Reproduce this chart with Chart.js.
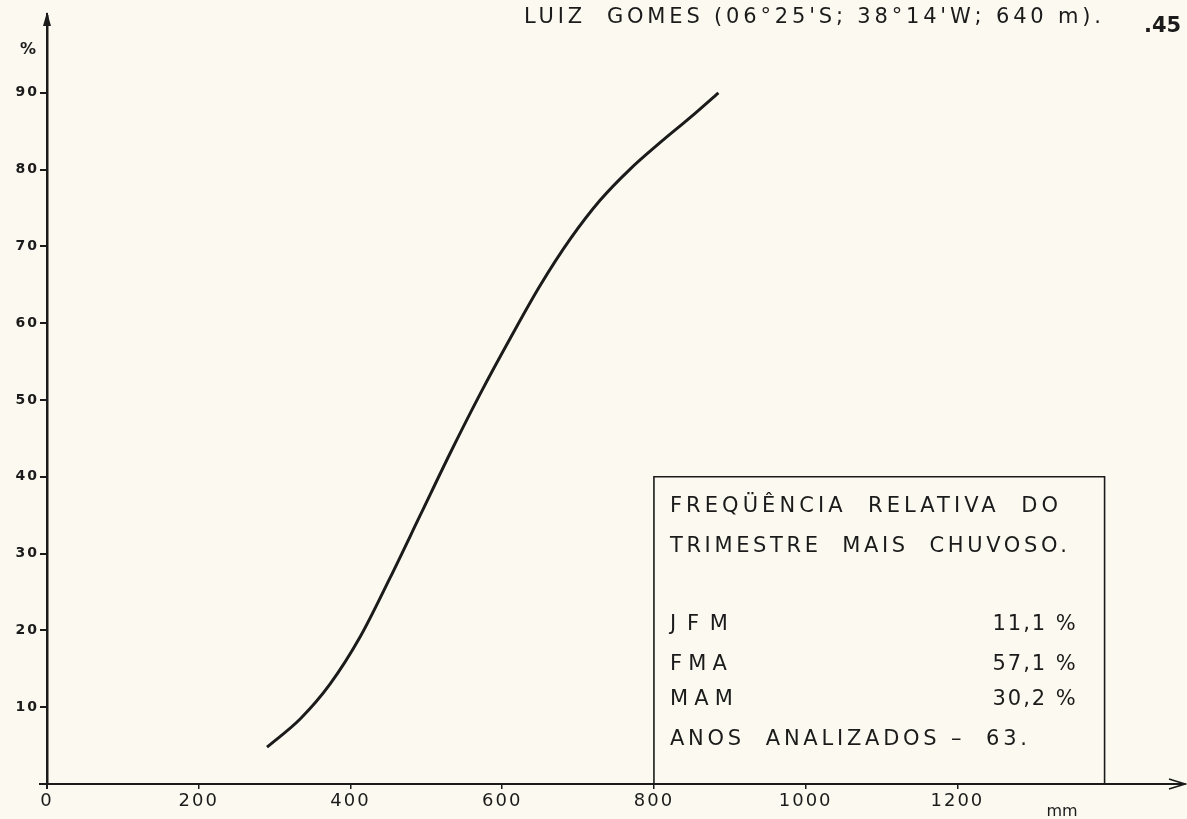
<!DOCTYPE html>
<html>
<head>
<meta charset="utf-8">
<script src="https://cdn.jsdelivr.net/npm/chart.js@4.4.0/dist/chart.umd.min.js"></script>
<style>
  html, body { margin: 0; padding: 0; background: #fcfaf0; }
  #wrap { width: 1187px; height: 819px; position: relative; }
</style>
</head>
<body>
<div id="wrap"><canvas id="curve-chart"></canvas></div>
<script>
// precipitation of the rainiest quarter (mm) vs relative cumulative frequency (%)
const rainfall = [290, 334, 373, 413, 452, 492, 532, 571, 611, 650, 690, 729, 769, 808, 848, 885];
const frequency = [4.8, 8.5, 13.0, 19.2, 26.8, 35.0, 43.2, 50.8, 58.1, 64.9, 71.0, 76.0, 80.1, 83.5, 86.8, 90.0];
const xTicks = [0, 200, 400, 600, 800, 1000, 1200];
const yTicks = [10, 20, 30, 40, 50, 60, 70, 80, 90];
const seasons = ['JFM', 'FMA', 'MAM'];
const seasonShare = [11.1, 57.1, 30.2];
const yearsAnalysed = 63;

const ink = '#1b1b1b';
const sans = '"DejaVu Sans", sans-serif';

// draw text stretched to a given width with letter spacing
function spaced(ctx, text, x, y, width, align) {
  ctx.letterSpacing = '0px';
  let w = ctx.measureText(text).width;
  let ls = text.length > 1 ? (width - w) / (text.length - 1) : 0;
  ctx.letterSpacing = ls + 'px';
  ctx.textAlign = 'left';
  ctx.fillText(text, align === 'right' ? x - width : x, y);
  ctx.letterSpacing = '0px';
}

const sheet = {
  id: 'sheet',
  beforeDraw(chart) {
    chart.ctx.letterSpacing = '2px';
  },
  afterDraw(chart) {
    const ctx = chart.ctx;
    const xs = chart.scales.x, ys = chart.scales.y;
    const ox = xs.getPixelForValue(0), oy = ys.getPixelForValue(0);
    const top = chart.chartArea.top, right = chart.chartArea.right;
    ctx.save();
    ctx.letterSpacing = '0px';
    ctx.strokeStyle = ink;
    ctx.fillStyle = ink;

    // axis stubs + arrows
    ctx.lineWidth = 2;
    ctx.beginPath();
    ctx.moveTo(ox - 8, oy); ctx.lineTo(ox, oy);
    ctx.moveTo(ox, oy); ctx.lineTo(ox, oy + 5);
    ctx.moveTo(ox, top); ctx.lineTo(ox, top - 3);
    ctx.stroke();
    ctx.beginPath();
    ctx.moveTo(ox, top - 4); ctx.lineTo(ox - 4, top + 10); ctx.lineTo(ox + 4, top + 10);
    ctx.closePath(); ctx.fill();
    ctx.lineWidth = 1.8;
    ctx.beginPath();
    ctx.moveTo(right - 16, oy - 5); ctx.lineTo(right, oy); ctx.lineTo(right - 16, oy + 5);
    ctx.stroke();

    // unit labels
    ctx.font = 'bold 16px ' + sans;
    ctx.textAlign = 'center';
    ctx.textBaseline = 'alphabetic';
    ctx.fillText('%', 28, 54);
    ctx.font = '16px ' + sans;
    ctx.fillText('mm', 1062, 816);

    // title and page number
    ctx.font = '21px ' + sans;
    spaced(ctx, 'LUIZ  GOMES (06°25\'S; 38°14\'W; 640 m).', 524, 23, 577);
    ctx.font = 'bold 21px ' + sans;
    ctx.textAlign = 'left';
    ctx.fillText('.45', 1144, 32);

    // legend box
    const bl = xs.getPixelForValue(800), br = xs.getPixelForValue(1394);
    const bt = ys.getPixelForValue(40), bb = oy;
    ctx.lineWidth = 1.6;
    ctx.beginPath();
    ctx.moveTo(bl, bb); ctx.lineTo(bl, bt); ctx.lineTo(br, bt); ctx.lineTo(br, bb);
    ctx.stroke();

    ctx.font = '21px ' + sans;
    const tx = bl + 16, vr = br - 29;
    spaced(ctx, 'FREQÜÊNCIA  RELATIVA  DO', tx, bt + 35, 388);
    spaced(ctx, 'TRIMESTRE  MAIS  CHUVOSO.', tx, bt + 75, 397);
    const rows = [bt + 153, bt + 193, bt + 228];
    const nameW = [58, 57, 63];
    seasons.forEach((s, i) => {
      spaced(ctx, s, tx, rows[i], nameW[i]);
      spaced(ctx, seasonShare[i].toFixed(1).replace('.', ',') + ' %', vr, rows[i], 83, 'right');
    });
    spaced(ctx, 'ANOS  ANALIZADOS –  ' + yearsAnalysed + '.', tx, bt + 268, 357);
    ctx.restore();
  }
};

let chart = new Chart(document.getElementById('curve-chart'), {
  type: 'scatter',
  data: {
    datasets: [{
      data: rainfall.map((v, i) => ({ x: v, y: frequency[i] })),
      showLine: true,
      borderColor: ink,
      borderWidth: 3,
      pointRadius: 0,
      cubicInterpolationMode: 'monotone'
    }]
  },
  plugins: [sheet],
  options: {
    responsive: true,
    maintainAspectRatio: false,
    animation: false,
    layout: { padding: { top: 16, right: 2, left: 0, bottom: 0 } },
    plugins: { legend: { display: false }, tooltip: { enabled: false } },
    scales: {
      x: {
        type: 'linear',
        min: 0,
        max: 1500,
        afterBuildTicks: s => { s.ticks = xTicks.map(v => ({ value: v })); },
        afterFit: s => { s.height = 35; },
        grid: { drawOnChartArea: false, drawTicks: true, tickLength: 5, color: ink, lineWidth: 1.5 },
        border: { display: true, color: ink, width: 2 },
        ticks: { color: ink, padding: 2, maxRotation: 0, callback: v => String(v), font: { family: sans, size: 18 } }
      },
      y: {
        min: 0,
        max: 100,
        afterBuildTicks: s => { s.ticks = yTicks.map(v => ({ value: v })); },
        afterFit: s => { s.width = 47; },
        grid: { drawOnChartArea: false, drawTicks: true, tickLength: 7, color: ink, lineWidth: 2 },
        border: { display: true, color: ink, width: 2.5 },
        ticks: { color: ink, padding: 1, callback: v => String(v), font: { family: sans, size: 14, weight: 'bold' } }
      }
    }
  }
});
</script>
</body>
</html>
